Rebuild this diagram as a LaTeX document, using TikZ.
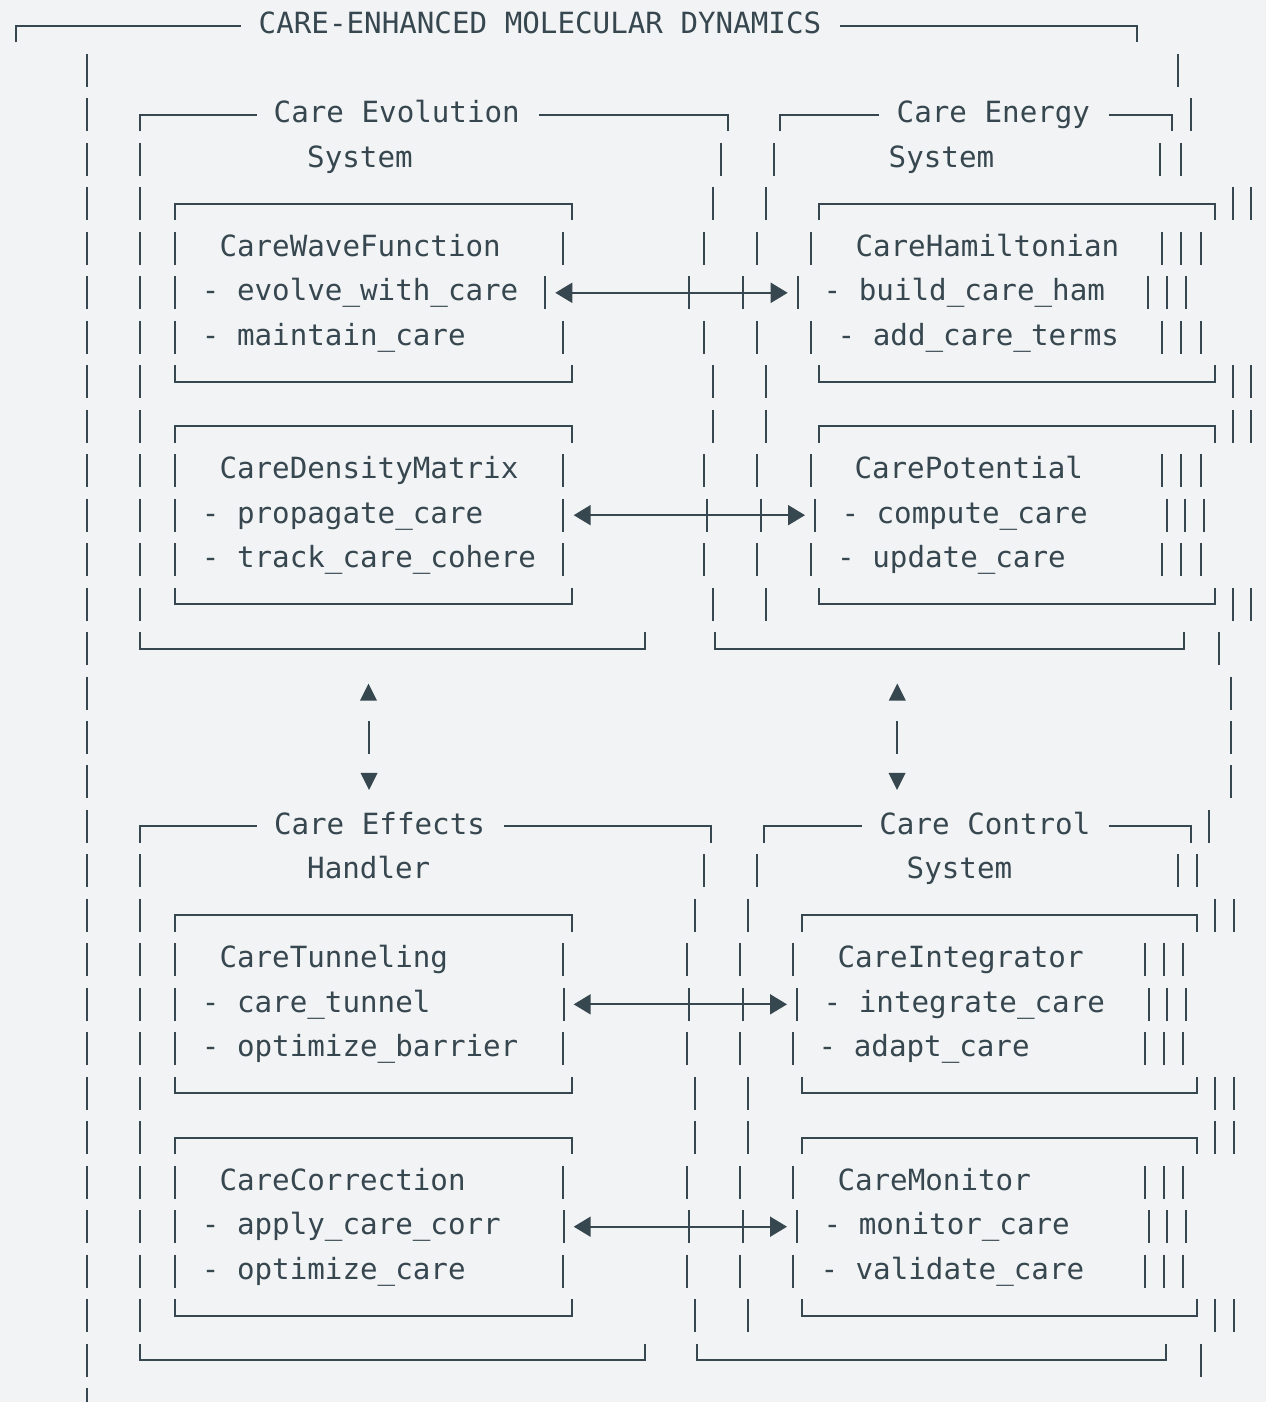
\documentclass[tikz,border=0pt]{standalone}
\usepackage{fontspec}
\newfontfamily\codefont{DejaVu Sans Mono}
\usepackage{tikz}
\usetikzlibrary{arrows.meta}
\definecolor{ink}{RGB}{55,71,79}
\definecolor{paper}{RGB}{242,243,245}
\tikzset{
    glyph_line/.style={draw=ink, line width=2pt},
    code_text/.style={font=\codefont\fontsize{29.2}{35}\selectfont, text=ink, anchor=base west, inner sep=0pt},
    arrow/.style={{Triangle[length=17pt,width=20pt]}-{Triangle[length=17pt,width=20pt]}, draw=ink, line width=2pt}
}
\newcommand{\rowy}[1]{26+44.47*#1}
\newcommand{\bars}[2]{\foreach \bx in {#2}{\draw[glyph_line] (\bx,\rowy{#1}-16.5) -- (\bx,\rowy{#1}+16.5);}}
\newcommand{\boxtop}[3]{\draw[glyph_line] (#2,\rowy{#1}+16.5) -- (#2,\rowy{#1}) -- (#3,\rowy{#1}) -- (#3,\rowy{#1}+16.5);}
\newcommand{\boxbot}[3]{\draw[glyph_line] (#2,\rowy{#1}-16.5) -- (#2,\rowy{#1}) -- (#3,\rowy{#1}) -- (#3,\rowy{#1}-16.5);}
\newcommand{\uptri}[2]{\fill[ink] (#1-8.5,\rowy{#2}+7.5) -- (#1+8.5,\rowy{#2}+7.5) -- (#1,\rowy{#2}-9.5) -- cycle;}
\newcommand{\downtri}[2]{\fill[ink] (#1-8.5,\rowy{#2}-9) -- (#1+8.5,\rowy{#2}-9) -- (#1,\rowy{#2}+8) -- cycle;}

\begin{document}
\begin{tikzpicture}[x=1pt, y=-1pt]
    \fill[paper] (0,0) rectangle (1266,1402);
    \useasboundingbox (0,0) rectangle (1266,1402);

    % outer frame
    \draw[glyph_line] (16,\rowy{0}+16.5) -- (16,\rowy{0}) -- (241,\rowy{0});
    \node[code_text] (title) at (258.5,\rowy{0}+8) {CARE-ENHANCED MOLECULAR DYNAMICS};
    \draw[glyph_line] (840,\rowy{0}) -- (1137,\rowy{0}) -- (1137,\rowy{0}+16.5);
    \bars{1}{87,1178}

    % upper systems
    \bars{2}{87,1191}
    \draw[glyph_line] (140,\rowy{2}+16.5) -- (140,\rowy{2}) -- (257,\rowy{2});
    \node[code_text] (evoHead) at (273.5,\rowy{2}+8) {Care Evolution};
    \draw[glyph_line] (539,\rowy{2}) -- (728,\rowy{2}) -- (728,\rowy{2}+16.5);
    \draw[glyph_line] (780,\rowy{2}+16.5) -- (780,\rowy{2}) -- (879,\rowy{2});
    \node[code_text] (enHead) at (896.5,\rowy{2}+8) {Care Energy};
    \draw[glyph_line] (1109,\rowy{2}) -- (1172,\rowy{2}) -- (1172,\rowy{2}+16.5);
    \bars{3}{87,140,721,774,1160,1181}
    \node[code_text] (evoSub) at (307,\rowy{3}+8) {System};
    \node[code_text] (enSub) at (888.5,\rowy{3}+8) {System};

    \bars{4}{87,140,713,766,1233,1251}
    \boxtop{4}{175}{572} \boxtop{4}{819}{1215}
    \bars{5}{87,140,175,563,704,757,811,1162,1181,1201}
    \node[code_text] (wave) at (219.3,\rowy{5}+8) {CareWaveFunction};
    \node[code_text] (ham) at (855.3,\rowy{5}+8) {CareHamiltonian};
    \bars{6}{87,140,175,545,689,743,798,1148,1167,1186}
    \node[code_text] (waveEvolve) at (201.7,\rowy{6}+8) {- evolve\_with\_care};
    \node[code_text] (hamBuild) at (823.5,\rowy{6}+8) {- build\_care\_ham};
    \coordinate (waveR) at (555.3,\rowy{6});
    \coordinate (hamL) at (787.7,\rowy{6});
    \draw[arrow] (waveR) -- (hamL);
    \bars{7}{87,140,175,563,704,757,811,1162,1181,1201}
    \node[code_text] (waveMaintain) at (201.7,\rowy{7}+8) {- maintain\_care};
    \node[code_text] (hamTerms) at (837.5,\rowy{7}+8) {- add\_care\_terms};
    \bars{8}{87,140,713,766,1233,1251}
    \boxbot{8}{175}{572} \boxbot{8}{819}{1215}

    \bars{9}{87,140,713,766,1233,1251}
    \boxtop{9}{175}{572} \boxtop{9}{819}{1215}
    \bars{10}{87,140,175,563,704,757,811,1162,1181,1201}
    \node[code_text] (dens) at (219.3,\rowy{10}+8) {CareDensityMatrix};
    \node[code_text] (pot) at (854.3,\rowy{10}+8) {CarePotential};
    \bars{11}{87,140,175,563,707,761,815,1167,1185,1204}
    \node[code_text] (densProp) at (201.7,\rowy{11}+8) {- propagate\_care};
    \node[code_text] (potCompute) at (841.3,\rowy{11}+8) {- compute\_care};
    \coordinate (densR) at (573.7,\rowy{11});
    \coordinate (potL) at (805,\rowy{11});
    \draw[arrow] (densR) -- (potL);
    \bars{12}{87,140,175,563,704,757,811,1162,1181,1201}
    \node[code_text] (densTrack) at (201.7,\rowy{12}+8) {- track\_care\_cohere};
    \node[code_text] (potUpdate) at (837,\rowy{12}+8) {- update\_care};
    \bars{13}{87,140,713,766,1233,1251}
    \boxbot{13}{175}{572} \boxbot{13}{819}{1215}
    \bars{14}{87,1219}
    \boxbot{14}{140}{645} \boxbot{14}{715}{1184}

    % vertical links
    \bars{15}{87,1231}
    \uptri{368.5}{15} \uptri{897.3}{15}
    \bars{16}{87,369,897,1231}
    \bars{17}{87,1231}
    \downtri{369}{17} \downtri{897}{17}

    % lower systems
    \bars{18}{87,1209}
    \draw[glyph_line] (140,\rowy{18}+16.5) -- (140,\rowy{18}) -- (257,\rowy{18});
    \node[code_text] (effHead) at (273.8,\rowy{18}+8) {Care Effects};
    \draw[glyph_line] (504,\rowy{18}) -- (711,\rowy{18}) -- (711,\rowy{18}+16.5);
    \draw[glyph_line] (764,\rowy{18}+16.5) -- (764,\rowy{18}) -- (862,\rowy{18});
    \node[code_text] (ctrlHead) at (879.2,\rowy{18}+8) {Care Control};
    \draw[glyph_line] (1109,\rowy{18}) -- (1191,\rowy{18}) -- (1191,\rowy{18}+16.5);
    \bars{19}{87,140,704,757,1178,1197}
    \node[code_text] (effSub) at (307,\rowy{19}+8) {Handler};
    \node[code_text] (ctrlSub) at (906.5,\rowy{19}+8) {System};

    \bars{20}{87,140,695,748,1215,1234}
    \boxtop{20}{175}{572} \boxtop{20}{802}{1197}
    \bars{21}{87,140,175,563,687,740,793,1145,1164,1183}
    \node[code_text] (tun) at (219.3,\rowy{21}+8) {CareTunneling};
    \node[code_text] (integ) at (837.3,\rowy{21}+8) {CareIntegrator};
    \bars{22}{87,140,175,564,689,743,797,1149,1167,1186}
    \node[code_text] (tunCare) at (201.7,\rowy{22}+8) {- care\_tunnel};
    \node[code_text] (integCare) at (823.5,\rowy{22}+8) {- integrate\_care};
    \coordinate (tunR) at (573.7,\rowy{22});
    \coordinate (integL) at (787,\rowy{22});
    \draw[arrow] (tunR) -- (integL);
    \bars{23}{87,140,175,563,687,740,793,1145,1164,1183}
    \node[code_text] (tunBarrier) at (201.7,\rowy{23}+8) {- optimize\_barrier};
    \node[code_text] (integAdapt) at (818.5,\rowy{23}+8) {- adapt\_care};
    \bars{24}{87,140,695,748,1215,1234}
    \boxbot{24}{175}{572} \boxbot{24}{802}{1197}

    \bars{25}{87,140,695,748,1215,1234}
    \boxtop{25}{175}{572} \boxtop{25}{802}{1197}
    \bars{26}{87,140,175,563,687,740,793,1145,1164,1183}
    \node[code_text] (corr) at (219.3,\rowy{26}+8) {CareCorrection};
    \node[code_text] (mon) at (837.3,\rowy{26}+8) {CareMonitor};
    \bars{27}{87,140,175,564,689,743,797,1149,1167,1186}
    \node[code_text] (corrApply) at (201.7,\rowy{27}+8) {- apply\_care\_corr};
    \node[code_text] (monCare) at (823.5,\rowy{27}+8) {- monitor\_care};
    \coordinate (corrR) at (573.7,\rowy{27});
    \coordinate (monL) at (787,\rowy{27});
    \draw[arrow] (corrR) -- (monL);
    \bars{28}{87,140,175,563,687,740,793,1145,1164,1183}
    \node[code_text] (corrOpt) at (201.7,\rowy{28}+8) {- optimize\_care};
    \node[code_text] (monValid) at (820.3,\rowy{28}+8) {- validate\_care};
    \bars{29}{87,140,695,748,1215,1234}
    \boxbot{29}{175}{572} \boxbot{29}{802}{1197}
    \bars{30}{87,1201}
    \boxbot{30}{140}{645} \boxbot{30}{697}{1166}
    \bars{31}{87}
\end{tikzpicture}
\end{document}
